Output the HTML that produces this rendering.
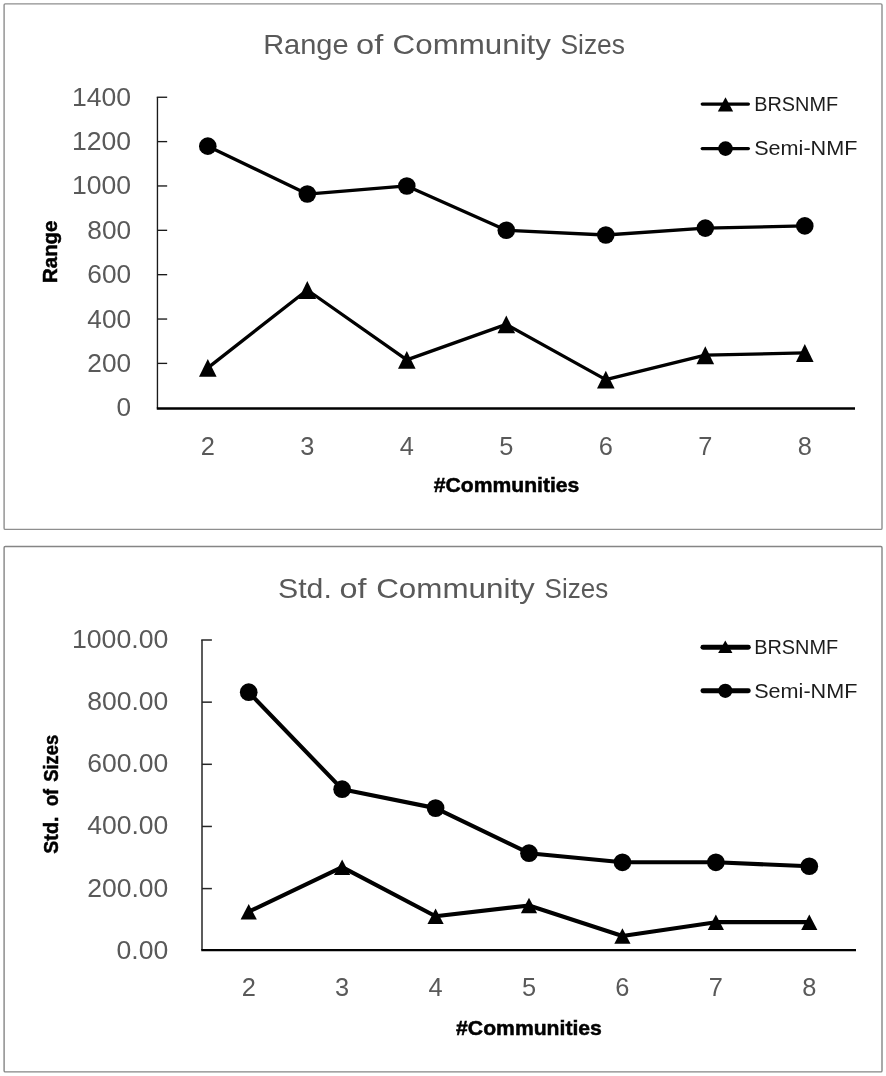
<!DOCTYPE html>
<html lang="en">
<head>
<meta charset="utf-8">
<title>Community size charts</title>
<style>
html,body{margin:0;padding:0;background:#fff;}
body{width:886px;height:1076px;overflow:hidden;font-family:"Liberation Sans", sans-serif;}
svg{display:block;will-change:transform;opacity:0.999;}
svg text{font-family:"Liberation Sans", sans-serif;}
</style>
</head>
<body>
<svg width="886" height="1076" viewBox="0 0 886 1076">
<rect width="886" height="1076" fill="#fff"/>
<!-- Chart 1: Range of Community Sizes -->
<rect x="4.1" y="3.85" width="877.90" height="525.55" rx="1.2" fill="#fff" stroke="#8e8e8e" stroke-width="1.4"/>
<text x="263.20" y="54.30" font-size="28.3" fill="#595959" textLength="85.40" lengthAdjust="spacingAndGlyphs">Range</text>
<text x="356.00" y="54.30" font-size="28.3" fill="#595959" textLength="27.20" lengthAdjust="spacingAndGlyphs">of</text>
<text x="392.60" y="54.30" font-size="28.3" fill="#595959" textLength="158.40" lengthAdjust="spacingAndGlyphs">Community</text>
<text x="560.40" y="54.30" font-size="28.3" fill="#595959" textLength="64.60" lengthAdjust="spacingAndGlyphs">Sizes</text>
<g stroke="#1a1a1a" stroke-width="1.35" fill="none" stroke-linecap="butt">
<path d="M157.45 408.50 V97.25"/>
<path d="M156.77 97.25 H167.15"/>
<path d="M157.45 141.61 H167.15"/>
<path d="M157.45 185.96 H167.15"/>
<path d="M157.45 230.32 H167.15"/>
<path d="M157.45 274.68 H167.15"/>
<path d="M157.45 319.04 H167.15"/>
<path d="M157.45 363.39 H167.15"/>
</g>
<path d="M156.77 408.50 H855.00" stroke="#000" stroke-width="2.6" fill="none"/>
<text x="72.00" y="105.75" font-size="25.4" fill="#595959" textLength="59.10" lengthAdjust="spacingAndGlyphs">1400</text>
<text x="72.00" y="150.11" font-size="25.4" fill="#595959" textLength="59.10" lengthAdjust="spacingAndGlyphs">1200</text>
<text x="72.00" y="194.46" font-size="25.4" fill="#595959" textLength="59.10" lengthAdjust="spacingAndGlyphs">1000</text>
<text x="87.30" y="238.82" font-size="25.4" fill="#595959" textLength="43.80" lengthAdjust="spacingAndGlyphs">800</text>
<text x="87.30" y="283.18" font-size="25.4" fill="#595959" textLength="43.80" lengthAdjust="spacingAndGlyphs">600</text>
<text x="87.30" y="327.54" font-size="25.4" fill="#595959" textLength="43.80" lengthAdjust="spacingAndGlyphs">400</text>
<text x="87.30" y="371.89" font-size="25.4" fill="#595959" textLength="43.80" lengthAdjust="spacingAndGlyphs">200</text>
<text x="116.50" y="416.25" font-size="25.4" fill="#595959" textLength="14.60" lengthAdjust="spacingAndGlyphs">0</text>
<text x="207.80" y="455.20" font-size="25.4" fill="#595959" text-anchor="middle">2</text>
<text x="307.30" y="455.20" font-size="25.4" fill="#595959" text-anchor="middle">3</text>
<text x="406.80" y="455.20" font-size="25.4" fill="#595959" text-anchor="middle">4</text>
<text x="506.30" y="455.20" font-size="25.4" fill="#595959" text-anchor="middle">5</text>
<text x="605.80" y="455.20" font-size="25.4" fill="#595959" text-anchor="middle">6</text>
<text x="705.30" y="455.20" font-size="25.4" fill="#595959" text-anchor="middle">7</text>
<text x="804.80" y="455.20" font-size="25.4" fill="#595959" text-anchor="middle">8</text>
<text x="433.80" y="492.10" font-size="20.8" fill="#000" font-weight="bold" stroke="#000" stroke-width="0.5" textLength="145.50" lengthAdjust="spacingAndGlyphs">#Communities</text>
<text x="57.20" y="283.00" font-size="20.8" fill="#000" font-weight="bold" stroke="#000" stroke-width="0.5" textLength="62.50" lengthAdjust="spacingAndGlyphs" transform="rotate(-90 57.20 283.00)">Range</text>
<path d="M207.80 146.15 L307.30 194.06 L406.80 185.96 L506.30 230.32 L605.80 234.98 L705.30 228.10 L804.80 225.89" stroke="#000" stroke-width="3.3" fill="none" stroke-linejoin="round" stroke-linecap="round"/>
<g fill="#000">
<circle cx="207.80" cy="146.15" r="8.8"/>
<circle cx="307.30" cy="194.06" r="8.8"/>
<circle cx="406.80" cy="185.96" r="8.8"/>
<circle cx="506.30" cy="230.32" r="8.8"/>
<circle cx="605.80" cy="234.98" r="8.8"/>
<circle cx="705.30" cy="228.10" r="8.8"/>
<circle cx="804.80" cy="225.89" r="8.8"/>
</g>
<path d="M207.80 367.83 L307.30 289.98 L406.80 359.84 L506.30 324.36 L605.80 379.58 L705.30 355.19 L804.80 352.97" stroke="#000" stroke-width="3.3" fill="none" stroke-linejoin="round" stroke-linecap="round"/>
<g fill="#000">
<path d="M207.80 358.88 L216.60 376.78 L199.00 376.78 Z"/>
<path d="M307.30 281.03 L316.10 298.93 L298.50 298.93 Z"/>
<path d="M406.80 350.89 L415.60 368.79 L398.00 368.79 Z"/>
<path d="M506.30 315.41 L515.10 333.31 L497.50 333.31 Z"/>
<path d="M605.80 370.63 L614.60 388.53 L597.00 388.53 Z"/>
<path d="M705.30 346.24 L714.10 364.14 L696.50 364.14 Z"/>
<path d="M804.80 344.02 L813.60 361.92 L796.00 361.92 Z"/>
</g>
<path d="M702.20 104.10 H748.40" stroke="#000" stroke-width="3.2" stroke-linecap="round" fill="none"/>
<g fill="#000">
<path d="M725.50 97.20 L733.15 111.40 L717.85 111.40 Z"/>
</g>
<text x="754.20" y="111.40" font-size="20.3" fill="#1c1c1c" textLength="84.00" lengthAdjust="spacingAndGlyphs">BRSNMF</text>
<path d="M702.20 148.60 H748.40" stroke="#000" stroke-width="3.2" stroke-linecap="round" fill="none"/>
<g fill="#000">
<circle cx="725.50" cy="148.60" r="7.35"/>
</g>
<text x="754.20" y="154.50" font-size="20.3" fill="#1c1c1c" textLength="103.20" lengthAdjust="spacingAndGlyphs">Semi-NMF</text>
<!-- Chart 2: Std. of Community Sizes -->
<rect x="4.1" y="546.5" width="877.90" height="525.40" rx="1.2" fill="#fff" stroke="#858585" stroke-width="1.4"/>
<text x="278.00" y="598.00" font-size="28.3" fill="#595959" textLength="53.80" lengthAdjust="spacingAndGlyphs">Std.</text>
<text x="339.60" y="598.00" font-size="28.3" fill="#595959" textLength="27.00" lengthAdjust="spacingAndGlyphs">of</text>
<text x="376.20" y="598.00" font-size="28.3" fill="#595959" textLength="158.60" lengthAdjust="spacingAndGlyphs">Community</text>
<text x="544.60" y="598.00" font-size="28.3" fill="#595959" textLength="63.60" lengthAdjust="spacingAndGlyphs">Sizes</text>
<g stroke="#262626" stroke-width="1.5" fill="none" stroke-linecap="butt">
<path d="M202.00 950.10 V640.00"/>
<path d="M201.25 640.00 H211.90"/>
<path d="M202.00 702.15 H211.90"/>
<path d="M202.00 764.30 H211.90"/>
<path d="M202.00 826.45 H211.90"/>
<path d="M202.00 888.60 H211.90"/>
</g>
<path d="M201.25 950.10 H856.00" stroke="#000" stroke-width="2.4" fill="none"/>
<text x="71.90" y="647.90" font-size="25.4" fill="#595959" textLength="96.40" lengthAdjust="spacingAndGlyphs">1000.00</text>
<text x="87.25" y="710.05" font-size="25.4" fill="#595959" textLength="81.05" lengthAdjust="spacingAndGlyphs">800.00</text>
<text x="87.25" y="772.20" font-size="25.4" fill="#595959" textLength="81.05" lengthAdjust="spacingAndGlyphs">600.00</text>
<text x="87.25" y="834.35" font-size="25.4" fill="#595959" textLength="81.05" lengthAdjust="spacingAndGlyphs">400.00</text>
<text x="87.25" y="896.50" font-size="25.4" fill="#595959" textLength="81.05" lengthAdjust="spacingAndGlyphs">200.00</text>
<text x="116.55" y="958.65" font-size="25.4" fill="#595959" textLength="51.75" lengthAdjust="spacingAndGlyphs">0.00</text>
<text x="248.71" y="996.20" font-size="25.4" fill="#595959" text-anchor="middle">2</text>
<text x="342.14" y="996.20" font-size="25.4" fill="#595959" text-anchor="middle">3</text>
<text x="435.57" y="996.20" font-size="25.4" fill="#595959" text-anchor="middle">4</text>
<text x="529.00" y="996.20" font-size="25.4" fill="#595959" text-anchor="middle">5</text>
<text x="622.43" y="996.20" font-size="25.4" fill="#595959" text-anchor="middle">6</text>
<text x="715.86" y="996.20" font-size="25.4" fill="#595959" text-anchor="middle">7</text>
<text x="809.29" y="996.20" font-size="25.4" fill="#595959" text-anchor="middle">8</text>
<text x="456.10" y="1034.80" font-size="20.8" fill="#000" font-weight="bold" stroke="#000" stroke-width="0.5" textLength="145.80" lengthAdjust="spacingAndGlyphs">#Communities</text>
<text x="58.40" y="853.80" font-size="20.8" fill="#000" font-weight="bold" stroke="#000" stroke-width="0.5" textLength="37.20" lengthAdjust="spacingAndGlyphs" transform="rotate(-90 58.40 853.80)">Std.</text>
<text x="58.40" y="806.00" font-size="20.8" fill="#000" font-weight="bold" stroke="#000" stroke-width="0.5" textLength="17.20" lengthAdjust="spacingAndGlyphs" transform="rotate(-90 58.40 806.00)">of</text>
<text x="58.40" y="781.80" font-size="20.8" fill="#000" font-weight="bold" stroke="#000" stroke-width="0.5" textLength="47.00" lengthAdjust="spacingAndGlyphs" transform="rotate(-90 58.40 781.80)">Sizes</text>
<path d="M248.71 692.21 L342.14 789.16 L435.57 808.12 L529.00 853.17 L622.43 862.31 L715.86 862.31 L809.29 866.23" stroke="#000" stroke-width="4.1" fill="none" stroke-linejoin="round" stroke-linecap="round"/>
<g fill="#000">
<circle cx="248.71" cy="692.21" r="8.85"/>
<circle cx="342.14" cy="789.16" r="8.85"/>
<circle cx="435.57" cy="808.12" r="8.85"/>
<circle cx="529.00" cy="853.17" r="8.85"/>
<circle cx="622.43" cy="862.31" r="8.85"/>
<circle cx="715.86" cy="862.31" r="8.85"/>
<circle cx="809.29" cy="866.23" r="8.85"/>
</g>
<path d="M248.71 911.69 L342.14 867.16 L435.57 916.26 L529.00 905.50 L622.43 935.99 L715.86 922.16 L809.29 922.16" stroke="#000" stroke-width="4.1" fill="none" stroke-linejoin="round" stroke-linecap="round"/>
<g fill="#000">
<path d="M248.71 903.94 L256.81 919.44 L240.61 919.44 Z"/>
<path d="M342.14 859.41 L350.24 874.91 L334.04 874.91 Z"/>
<path d="M435.57 908.51 L443.67 924.01 L427.47 924.01 Z"/>
<path d="M529.00 897.75 L537.10 913.25 L520.90 913.25 Z"/>
<path d="M622.43 928.24 L630.53 943.74 L614.33 943.74 Z"/>
<path d="M715.86 914.41 L723.96 929.91 L707.76 929.91 Z"/>
<path d="M809.29 914.41 L817.39 929.91 L801.19 929.91 Z"/>
</g>
<path d="M702.90 647.20 H748.30" stroke="#000" stroke-width="4.9" stroke-linecap="round" fill="none"/>
<g fill="#000">
<path d="M725.30 640.50 L732.45 653.10 L718.15 653.10 Z"/>
</g>
<text x="754.20" y="654.00" font-size="20.0" fill="#1c1c1c" textLength="84.00" lengthAdjust="spacingAndGlyphs">BRSNMF</text>
<path d="M702.90 690.80 H748.30" stroke="#000" stroke-width="4.9" stroke-linecap="round" fill="none"/>
<g fill="#000">
<circle cx="725.30" cy="690.80" r="7.15"/>
</g>
<text x="754.20" y="697.70" font-size="20.0" fill="#1c1c1c" textLength="103.20" lengthAdjust="spacingAndGlyphs">Semi-NMF</text>
</svg>
</body>
</html>
